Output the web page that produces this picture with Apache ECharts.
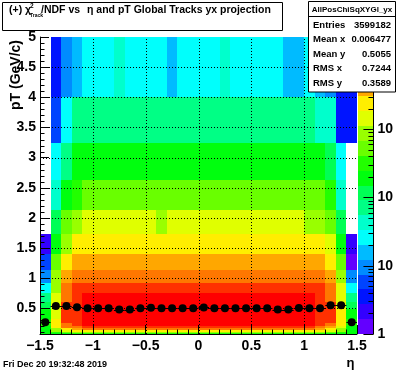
<!DOCTYPE html>
<html>
<head>
<meta charset="utf-8">
<script src="https://cdn.jsdelivr.net/npm/echarts/dist/echarts.min.js"></script>
<style>html,body{margin:0;padding:0;background:#fff}#c{width:396px;height:372px}</style>
</head>
<body>
<div id="c"></div>
<script>
// ---------------- data ----------------
const etaEdges = [-1.5,-1.4,-1.3,-1.2,-1.1,-1.0,-0.9,-0.8,-0.7,-0.6,-0.5,-0.4,-0.3,-0.2,-0.1,0.0,
                  0.1,0.2,0.3,0.4,0.5,0.6,0.7,0.8,0.9,1.0,1.1,1.2,1.3,1.4,1.5];
// pT bin edges (log-spaced bins), top to bottom
const ptEdges = [5, 4.0, 3.246, 2.634, 2.138, 1.735, 1.408, 1.142, 0.927, 0.752, 0.610,
                 0.495, 0.402, 0.326, 0.265, 0.215, 0.174, 0.141, 0.115, 0.093, 0.075];
// counts per cell, one row per pT bin (top row first), one column per eta bin
const countsByRow = [
 [0,3,10,17,27,25,28,38,26,29,27,25,19,28,26,27,30,37,26,28,25,27,29,18,19,26,16,10,4,3],
 [0,6,27,68,74,71,69,75,72,70,73,68,71,74,70,66,72,75,70,73,69,71,72,70,68,66,52,35,4,4],
 [0,26,72,175,190,195,188,200,192,185,198,190,187,196,193,190,188,199,191,194,189,192,195,188,186,180,160,95,26,0],
 [0,44,205,320,520,535,528,540,525,530,538,522,531,527,534,529,524,536,530,526,533,528,521,519,510,500,470,330,46,0],
 [0,115,520,860,1380,1420,1400,1390,1410,1375,1395,1080,1400,1415,1390,1405,1385,1410,1398,1402,1388,1395,1380,1370,1360,1090,900,540,120,0],
 [2,165,870,2300,2380,2350,2400,2360,2330,2370,2390,2340,2355,2365,2380,2345,2360,2375,2350,2385,2340,2370,2360,2335,2320,2300,2250,1400,170,2],
 [5,500,2300,3850,3920,3900,3880,3950,3910,3890,3930,3870,3900,3920,3895,3905,3880,3915,3900,3925,3885,3910,3900,3870,3860,3840,3800,2300,520,1],
 [10,870,3900,6300,6450,6400,6420,6380,6460,6410,6390,6430,6400,6440,6415,6405,6395,6425,6410,6435,6390,6420,6400,6380,6370,6350,6250,3950,880,10],
 [26,900,6400,10300,10600,10650,10580,10620,10700,10640,10610,10590,10630,10660,10600,10620,10650,10610,10640,10590,10620,10600,10630,10580,10550,10500,10200,6450,1400,27],
 [70,1400,6500,11000,15800,16100,16000,15900,16200,16050,15950,16100,16000,16150,16050,16000,15950,16100,16000,16080,15980,16020,16000,15900,15850,15700,11100,6600,1450,72],
 [120,1500,10200,11000,17500,17600,17400,17550,17700,17500,17450,17600,17500,17650,17550,17500,17450,17600,17500,17580,17480,17520,17500,17400,17350,17200,11200,10000,1700,125],
 [190,1600,10500,11200,18500,18600,18400,18550,18700,18500,18450,18600,18500,18650,18550,18500,18450,18600,18500,18580,18480,18520,18500,18400,18350,18200,11300,10300,2000,190],
 [200,1700,10500,11500,17000,17100,16900,17050,17200,17000,16950,17100,17000,17150,17050,17000,16950,17100,17000,17080,16980,17020,17000,16900,16850,16700,11000,10000,2100,200],
 [300,2000,9500,10500,15500,15600,15400,15550,15700,15500,15450,15600,15500,15650,15550,15500,15450,15600,15500,15580,15480,15520,15500,15400,15350,15200,10400,9000,2000,290],
 [320,2100,7000,9500,14500,14600,14400,14550,14700,14500,14450,14600,14500,14650,14550,14500,14450,14600,14500,14580,14480,14520,14500,14400,14350,14200,9200,7000,2000,330],
 [220,1900,5500,6500,10000,10100,9900,10050,10200,10000,9950,10100,10000,10150,10050,10000,9950,10100,10000,10080,9980,10020,10000,9900,9850,9700,6400,4000,1500,210],
 [200,900,2400,4000,6000,6100,5900,6050,6200,6000,5950,6100,6000,6150,6050,6000,5950,6100,6000,6080,5980,6020,6000,5900,5850,5700,3900,2300,880,190],
 [180,800,1400,2000,2400,2450,2380,2420,2460,2400,2390,2440,2400,2450,2410,2400,2390,2430,2400,2420,2390,2410,2400,2380,2360,2300,1950,1350,780,175],
 [170,330,500,700,850,870,840,860,880,850,845,870,850,875,855,850,845,865,850,860,845,855,850,840,830,800,690,480,320,165],
 [160,200,220,280,300,305,295,302,310,300,298,305,300,308,302,300,298,304,300,303,297,301,300,296,293,285,275,215,195,155]
];
// profile (mean pT per eta bin)
const profileEta = [-1.45,-1.35,-1.25,-1.15,-1.05,-0.95,-0.85,-0.75,-0.65,-0.55,-0.45,-0.35,-0.25,-0.15,-0.05,
                    0.05,0.15,0.25,0.35,0.45,0.55,0.65,0.75,0.85,0.95,1.05,1.15,1.25,1.35,1.45];
const profilePt  = [0.27,0.54,0.54,0.52,0.50,0.50,0.50,0.48,0.48,0.50,0.51,0.50,0.50,0.50,0.50,
                    0.515,0.50,0.50,0.50,0.50,0.50,0.50,0.48,0.48,0.505,0.50,0.50,0.55,0.55,0.27];
const xTickValues = [-1.5,-1,-0.5,0,0.5,1,1.5];
const yTickValues = [0.5,1,1.5,2,2.5,3,3.5,4,4.5,5];
const zMin = 1, zMax = 22500, nLevels = 20;
const zDecadeLabels = ['1','10','10','10','10'];
const statsName = 'AllPosChiSqXYGl_yx';
const statsLabels = ['Entries','Mean x','Mean y','RMS x','RMS y'];
const statsValues = ['3599182','0.006477','0.5055','0.7244','0.3589'];
const dateText = 'Fri Dec 20 19:32:48 2019';

// ---------------- drawing ----------------
const FONT = '"Liberation Sans", Arial, Helvetica, sans-serif';
const ptMin = ptEdges[ptEdges.length-1], ptMax = ptEdges[0];
const etaMin = etaEdges[0], etaMax = etaEdges[etaEdges.length-1];
const logMax = Math.log10(zMax) - Math.log10(zMin);

function levelOf(v){
  return Math.max(0, Math.min(nLevels-1, Math.floor((Math.log10(v)-Math.log10(zMin))/logMax*nLevels)));
}
function levelColor(j){
  const idx = Math.floor((j+0.99)*50/nLevels);
  const hue = 280 - (idx+1)*5.6;
  return 'hsl(' + hue.toFixed(1) + ',100%,50%)';
}

const cellData = [];
countsByRow.forEach((row, r) => {
  row.forEach((v, c) => {
    if (v > 0) cellData.push([etaEdges[c], etaEdges[c+1], ptEdges[r+1], ptEdges[r], v]);
  });
});

const gridData = [];
xTickValues.forEach(v => { if (v > etaMin && v < etaMax) gridData.push([v, 0]); });
yTickValues.forEach(v => { if (v > ptMin && v < ptMax) gridData.push([v, 1]); });

const yMinor = [];
for (let i = 1; i < 50; i++) { if (i % 5 !== 0 && i/10 > ptMin) yMinor.push([i/10]); }

const bandData = [];
for (let j = 0; j < nLevels; j++) bandData.push([j*logMax/nLevels, (j+1)*logMax/nLevels, j]);

const zMinor = [];
for (let n = 0; n < 5; n++) for (let k = 2; k <= 9; k++) {
  const lv = n + Math.log10(k);
  if (lv < logMax) zMinor.push([lv]);
}

const profileData = profileEta.map((e, i) => [e, profilePt[i]]);

const chart = echarts.init(document.getElementById('c'), null, {renderer: 'canvas', width: 396, height: 372});

const black = '#000';
const boldText = (size) => ({fontFamily: FONT, fontWeight: 'bold', fontSize: size, fill: black});

const graphics = [];
// title box
graphics.push({type:'rect', z:100, shape:{x:2.5, y:2.5, width:280, height:28}, style:{fill:'#fff', stroke:black, lineWidth:1}});
graphics.push({type:'text', z:101, x:9, y:10, style:Object.assign({text:'(+) χ', verticalAlign:'middle'}, boldText(10.5))});
graphics.push({type:'text', z:101, x:30, y:6.5, style:Object.assign({text:'2', verticalAlign:'middle'}, boldText(6.5))});
graphics.push({type:'text', z:101, x:30, y:15.5, style:Object.assign({text:'Track', verticalAlign:'middle'}, boldText(5))});
graphics.push({type:'text', z:101, x:41, y:10, style:Object.assign({text:'/NDF vs', verticalAlign:'middle'}, boldText(10.5))});
graphics.push({type:'text', z:101, x:87, y:10, style:Object.assign({text:'η and pT Global Tracks yx projection', verticalAlign:'middle'}, boldText(10.5))});
// stats box
graphics.push({type:'rect', z:100, shape:{x:308.5, y:1.5, width:87, height:90.5}, style:{fill:'#fff', stroke:black, lineWidth:1}});
graphics.push({type:'line', z:101, shape:{x1:308.5, y1:16.5, x2:395.5, y2:16.5}, style:{stroke:black, lineWidth:1}});
graphics.push({type:'text', z:101, x:352, y:9.5, style:Object.assign({text:statsName, align:'center', verticalAlign:'middle'}, boldText(8))});
statsLabels.forEach((lab, i) => {
  const yy = 25 + i*14.5;
  graphics.push({type:'text', z:101, x:313, y:yy, style:Object.assign({text:lab, verticalAlign:'middle'}, boldText(9.5))});
  graphics.push({type:'text', z:101, x:391, y:yy, style:Object.assign({text:statsValues[i], align:'right', verticalAlign:'middle'}, boldText(9.5))});
});
// date, axis titles
graphics.push({type:'text', z:101, x:3, y:364.5, style:Object.assign({text:dateText, verticalAlign:'middle'}, boldText(9))});
graphics.push({type:'text', z:101, x:350.5, y:363, style:Object.assign({text:'η', align:'center', verticalAlign:'middle'}, boldText(13))});
graphics.push({type:'text', z:101, x:16.5, y:40, rotation:Math.PI/2, style:Object.assign({text:'pT (GeV/c)', align:'right', verticalAlign:'middle'}, boldText(14))});

const labelStyle = {color: black, fontFamily: FONT, fontWeight: 'bold', fontSize: 14};

chart.setOption({
  animation: false,
  backgroundColor: '#fff',
  grid: [
    {left: 40, top: 37, width: 317, height: 297},
    {left: 358, top: 37, width: 19, height: 297}
  ],
  xAxis: [
    {gridIndex: 0, type: 'value', min: etaMin, max: etaMax, interval: 0.5, z: 10,
     axisLine: {show: true, onZero: false, lineStyle: {color: black, width: 1}},
     axisTick: {show: true, inside: true, length: 9, lineStyle: {color: black, width: 1}},
     minorTick: {show: true, splitNumber: 5, length: 4.5, lineStyle: {color: black, width: 1}},
     splitLine: {show: false},
     axisLabel: Object.assign({show: true, margin: 5, showMinLabel: true, showMaxLabel: true, hideOverlap: false,
       formatter: v => String(v).replace('-', '\u2212')}, labelStyle)},
    {gridIndex: 1, type: 'value', min: 0, max: 1, show: false}
  ],
  yAxis: [
    {gridIndex: 0, type: 'value', min: ptMin, max: ptMax, z: 10,
     axisLine: {show: true, onZero: false, lineStyle: {color: black, width: 1}},
     axisTick: {show: true, inside: true, length: 9, customValues: yTickValues, lineStyle: {color: black, width: 1}},
     splitLine: {show: false},
     axisLabel: Object.assign({show: true, margin: 4, customValues: yTickValues, hideOverlap: false,
       formatter: v => String(v)}, labelStyle)},
    {gridIndex: 1, type: 'value', min: 0, max: logMax, interval: 1, position: 'right', z: 10,
     axisLine: {show: true, onZero: false, lineStyle: {color: black, width: 1}},
     axisTick: {show: true, inside: true, length: 10, lineStyle: {color: black, width: 1}},
     splitLine: {show: false},
     axisLabel: Object.assign({show: true, margin: 4, showMaxLabel: false, hideOverlap: false,
       formatter: v => {
         const n = Math.round(v);
         if (Math.abs(v - n) > 1e-6 || n >= zDecadeLabels.length) return '';
         return zDecadeLabels[n];
       }}, labelStyle)}
  ],
  graphic: {elements: graphics},
  series: [
    {type: 'custom', name: 'cells', xAxisIndex: 0, yAxisIndex: 0, z: 1, silent: true, data: cellData,
     renderItem: (params, api) => {
       const p0 = api.coord([api.value(0), api.value(3)]);
       const p1 = api.coord([api.value(1), api.value(2)]);
       const x0 = Math.round(p0[0]), y0 = Math.round(p0[1]);
       const x1 = Math.round(p1[0]), y1 = Math.round(p1[1]);
       return {type: 'rect', shape: {x: x0, y: y0, width: x1 - x0, height: y1 - y0},
               style: {fill: levelColor(levelOf(api.value(4)))}};
     }},
    {type: 'custom', name: 'grid', xAxisIndex: 0, yAxisIndex: 0, z: 3, silent: true, data: gridData,
     renderItem: (params, api) => {
       const v = api.value(0), o = api.value(1);
       let a, b;
       if (o === 0) {
         a = api.coord([v, ptMin]); b = api.coord([v, ptMax]);
         const x = Math.round(a[0]) + 0.5;
         return {type: 'line', shape: {x1: x, y1: a[1], x2: x, y2: b[1]}, style: {stroke: black, lineWidth: 1, lineDash: [1, 2]}};
       }
       a = api.coord([etaMin, v]); b = api.coord([etaMax, v]);
       const y = Math.round(a[1]) + 0.5;
       return {type: 'line', shape: {x1: a[0], y1: y, x2: b[0], y2: y}, style: {stroke: black, lineWidth: 1, lineDash: [1, 2]}};
     }},
    {type: 'custom', name: 'yminor', xAxisIndex: 0, yAxisIndex: 0, z: 4, silent: true, data: yMinor,
     renderItem: (params, api) => {
       const a = api.coord([etaMin, api.value(0)]);
       const y = Math.round(a[1]) + 0.5;
       return {type: 'line', shape: {x1: a[0], y1: y, x2: a[0] + 4.5, y2: y}, style: {stroke: black, lineWidth: 1}};
     }},
    {type: 'custom', name: 'profile', xAxisIndex: 0, yAxisIndex: 0, z: 5, silent: true, data: profileData,
     renderItem: (params, api) => {
       const e = api.value(0), p = api.value(1);
       const c = api.coord([e, p]);
       const l = api.coord([e - 0.05, p]);
       const r = api.coord([e + 0.05, p]);
       const y = Math.round(c[1]) + 0.5;
       return {type: 'group', children: [
         {type: 'line', shape: {x1: l[0], y1: y, x2: r[0], y2: y}, style: {stroke: black, lineWidth: 1}},
         {type: 'circle', shape: {cx: c[0], cy: c[1], r: 4}, style: {fill: black}}
       ]};
     }},
    {type: 'custom', name: 'palette', xAxisIndex: 1, yAxisIndex: 1, z: 1, silent: true, data: bandData,
     renderItem: (params, api) => {
       const p0 = api.coord([0, api.value(1)]);
       const p1 = api.coord([1, api.value(0)]);
       const x0 = Math.round(p0[0]), y0 = Math.round(p0[1]);
       const x1 = Math.round(p1[0]), y1 = Math.round(p1[1]);
       return {type: 'rect', shape: {x: x0, y: y0, width: x1 - x0, height: y1 - y0},
               style: {fill: levelColor(api.value(2))}};
     }},
    {type: 'custom', name: 'zminor', xAxisIndex: 1, yAxisIndex: 1, z: 4, silent: true, data: zMinor,
     renderItem: (params, api) => {
       const a = api.coord([1, api.value(0)]);
       const y = Math.round(a[1]) + 0.5;
       return {type: 'line', shape: {x1: a[0] - 5, y1: y, x2: a[0], y2: y}, style: {stroke: black, lineWidth: 1}};
     }}
  ]
});
</script>
</body>
</html>
